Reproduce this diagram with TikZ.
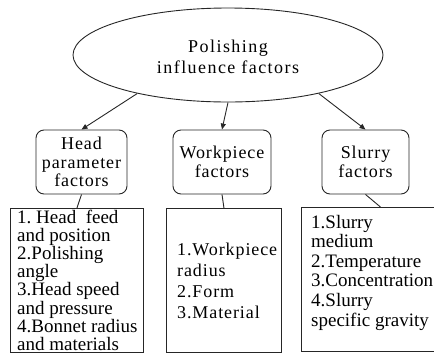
\documentclass[tikz,border=0pt]{standalone}
\usepackage{fontspec}
\setmainfont{Liberation Serif}
\newfontfamily\topfont[LetterSpace=8]{Liberation Serif}
\newfontfamily\catfont[LetterSpace=5]{Liberation Serif}
\usetikzlibrary{shapes.geometric,arrows.meta,calc}
\newcommand\toplines[1]{\parbox[t]{150pt}{\raggedright #1}}
\tikzset{
  ln/.style={draw=black!85, line width=0.9pt},
  arr/.style={ln, -{Triangle[length=6pt,width=5pt]}},
  cat/.style={ln, rounded corners=8pt, minimum width=#1, minimum height=64pt, inner sep=0pt, align=center,
    font=\catfont\fontsize{18}{18.5}\selectfont},
  lst/.style={ln, rectangle, minimum width=#1, minimum height=144pt, inner sep=0pt},
  txt/.style={anchor=base west, inner sep=0pt}
}
\begin{document}
\begin{tikzpicture}[x=1pt,y=-1pt]
\useasboundingbox (0,0) rectangle (434,354);
\clip (0,0) rectangle (434,354);
\node[ln, ellipse, minimum width=310pt, minimum height=94pt, inner sep=0pt] (ell) at (228,55) {};
\node[align=center, inner sep=0pt, font=\topfont\fontsize{18}{21}\selectfont] (elltxt) at (228,57) {Polishing\\influence factors};
\node[cat=91pt] (head) at (81.5,162) {Head\\parameter\\factors};
\node[cat=98pt] (wp) at (222,162) {Workpiece\\factors};
\node[cat=87pt] (sl) at (365.5,162) {Slurry\\factors};
\draw[arr] (ell.203) -- (head.north);
\draw[arr] (ell.south) -- (wp.north);
\draw[arr] (ell.337) -- (sl.north);
\node[lst=133pt, anchor=north west] (lb) at (10,208) {};
\node[lst=115pt, anchor=north west] (mb) at (166,208) {};
\node[lst=158pt, anchor=north west] (rb) at (301,207) {};
\draw[ln] (head.south) -- (lb.north);
\draw[ln] (wp.south) -- (mb.north);
\draw[ln] (sl.south) -- (rb.north);
\node[txt, font=\fontsize{19}{18.2}\selectfont] (lt) at ($(lb.north west)+(7,15)$)
  {\toplines{1.\ Head\ \ feed\\and position\\2.Polishing\\angle\\3.Head speed\\and pressure\\4.Bonnet radius\\and materials}};
\node[txt, font=\catfont\fontsize{18}{21}\selectfont] (mt) at ($(mb.north west)+(11,47)$)
  {\toplines{1.Workpiece\\radius\\2.Form\\3.Material}};
\node[txt, font=\fontsize{19}{19.6}\selectfont] (rt) at ($(rb.north west)+(10,21)$)
  {\toplines{1.Slurry\\medium\\2.Temperature\\3.Concentration\\4.Slurry\\specific gravity}};
\end{tikzpicture}
\end{document}
